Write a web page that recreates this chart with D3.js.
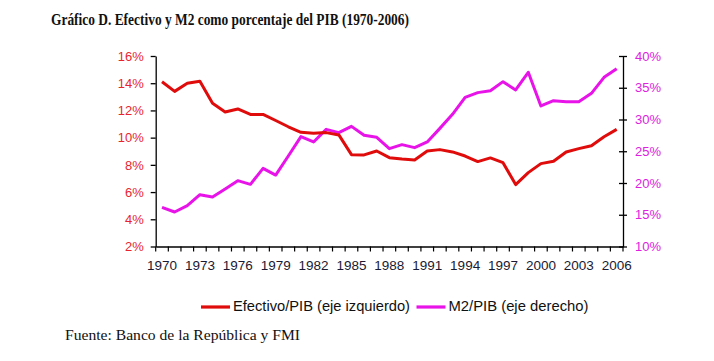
<!DOCTYPE html>
<html><head><meta charset="utf-8">
<script src="https://cdn.jsdelivr.net/npm/d3@7"></script>
<style>body{margin:0;background:#fff}svg{display:block}</style>
</head><body>
<svg id="c" width="714" height="361"></svg>
<script>
const years = d3.range(1970, 2007);
const efectivo = [14.11,13.40,13.99,14.14,12.52,11.89,12.11,11.71,11.71,11.26,10.80,10.39,10.32,10.37,10.20,8.75,8.73,9.02,8.53,8.43,8.36,9.02,9.12,8.95,8.65,8.24,8.51,8.16,6.55,7.43,8.09,8.26,8.95,9.19,9.41,10.07,10.61];
const m2 = [16.17,15.43,16.43,18.16,17.80,19.06,20.37,19.79,22.31,21.25,24.25,27.30,26.46,28.45,27.93,28.92,27.51,27.19,25.41,26.04,25.57,26.46,28.6,30.81,33.49,34.23,34.54,35.96,34.65,37.43,32.13,32.97,32.81,32.81,34.12,36.64,38.0];
const leftTicks = [2,4,6,8,10,12,14,16];
const rightTicks = [10,15,20,25,30,35,40];
const xLabels = years.filter((d,i)=>i%3===0);
const title = "Gráfico D. Efectivo y M2 como porcentaje del PIB (1970-2006)";
const source = "Fuente: Banco de la República y FMI";
const legendLabels = ["Efectivo/PIB (eje izquierdo)", "M2/PIB (eje derecho)"];

const RED = "#e00b0b", MAG = "#e813e8";
const L = 155.7, R = 623, T = 56, B = 246.5;
const svg = d3.select("#c");

const x = d3.scaleBand().domain(years).range([L, R]).padding(0);
const yL = d3.scaleLinear().domain([2, 16]).range([B, T]);
const yR = d3.scaleLinear().domain([10, 40]).range([B, T]);

// Title
svg.append("text").attr("x", 51).attr("y", 24.5)
  .attr("font-family", "Liberation Serif, Times New Roman, serif")
  .attr("font-weight", "bold").attr("font-size", 17)
  .attr("textLength", 358).attr("lengthAdjust", "spacingAndGlyphs")
  .attr("fill", "#111").text(title);

// Left axis
const gL = svg.append("g").attr("transform", `translate(${L},0)`)
  .call(d3.axisLeft(yL).tickValues(leftTicks).tickFormat(d => d + "%").tickSize(5).tickSizeOuter(0));
gL.select(".domain").attr("stroke", "#000").attr("stroke-width", 1.3);
gL.selectAll(".tick line").attr("stroke", "#000").attr("stroke-width", 1.3);
gL.selectAll(".tick text").attr("fill", "#e8252f").attr("font-family", "Liberation Sans, Arial, sans-serif")
  .attr("font-size", 13).attr("x", -12);

// Right axis (cross ticks)
const gR = svg.append("g").attr("transform", `translate(${R},0)`)
  .call(d3.axisRight(yR).tickValues(rightTicks).tickFormat(d => d + "%").tickSize(4).tickSizeOuter(0));
gR.select(".domain").attr("stroke", "#000").attr("stroke-width", 1.3);
gR.selectAll(".tick line").attr("stroke", "#000").attr("stroke-width", 1.3).attr("x1", -4);
gR.selectAll(".tick text").attr("fill", "#e020e0").attr("font-family", "Liberation Sans, Arial, sans-serif")
  .attr("font-size", 13).attr("x", 12);

// Bottom axis
const gB = svg.append("g").attr("transform", `translate(0,${B})`)
  .call(d3.axisBottom(x).tickValues(xLabels).tickSize(0).tickSizeOuter(0).tickPadding(14));
gB.select(".domain").attr("stroke", "#000").attr("stroke-width", 1.3);
gB.selectAll(".tick text").attr("fill", "#1a1a33").attr("font-family", "Liberation Sans, Arial, sans-serif")
  .attr("font-size", 13.5);
const bounds = years.map(d => x(d)).concat([x.range()[1]]);
gB.selectAll("line.bt").data(bounds).join("line").attr("class", "bt")
  .attr("x1", d => d).attr("x2", d => d).attr("y1", 0).attr("y2", 5)
  .attr("stroke", "#000").attr("stroke-width", 1.2);

// Lines
const cx = d => x(d) + x.bandwidth() / 2;
const lineL = d3.line().x((d, i) => cx(years[i])).y(d => yL(d));
const lineR = d3.line().x((d, i) => cx(years[i])).y(d => yR(d));
svg.append("path").attr("d", lineR(m2)).attr("fill", "none").attr("stroke", MAG).attr("stroke-width", 3).attr("stroke-linejoin", "round");
svg.append("path").attr("d", lineL(efectivo)).attr("fill", "none").attr("stroke", RED).attr("stroke-width", 3).attr("stroke-linejoin", "round");

// Legend
const leg = [{c: RED, t: legendLabels[0], x: 201, w: 177}, {c: MAG, t: legendLabels[1], x: 416.5, w: 140}];
const lg = svg.append("g");
leg.forEach(o => {
  lg.append("line").attr("x1", o.x).attr("x2", o.x + 29).attr("y1", 307).attr("y2", 307)
    .attr("stroke", o.c).attr("stroke-width", 3.2);
  lg.append("text").attr("x", o.x + 32).attr("y", 310.5)
    .attr("font-family", "Liberation Sans, Arial, sans-serif").attr("font-size", 14.5)
    .attr("textLength", o.w).attr("lengthAdjust", "spacingAndGlyphs")
    .attr("fill", "#111").text(o.t);
});

// Source
svg.append("text").attr("x", 65).attr("y", 340)
  .attr("font-family", "Liberation Serif, Times New Roman, serif").attr("font-size", 15)
  .attr("textLength", 235).attr("lengthAdjust", "spacingAndGlyphs")
  .attr("fill", "#111").text(source);
</script>
</body></html>
